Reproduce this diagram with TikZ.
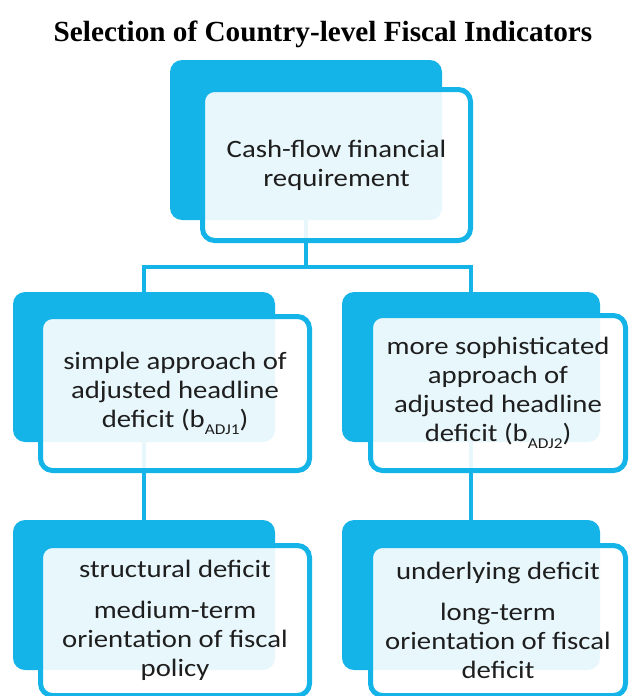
\documentclass[tikz,border=0pt]{standalone}
\usepackage{fontspec}
\setmainfont{Carlito}[FakeStretch=1.15]
\newfontfamily\titlefont{Liberation Serif}
\definecolor{cyanb}{HTML}{15B4E8}
\definecolor{txt}{HTML}{1E1E1E}
\newcommand{\adjsub}[1]{\raisebox{-0.28em}{\fontsize{15}{15}\selectfont #1}}
\begin{document}
\begin{tikzpicture}[x=1pt,y=-1pt,
  darkbox/.style={fill=cyanb, rounded corners=12pt, inner sep=0pt},
  frontbox/.style={draw=cyanb, line width=5pt, fill=white, fill opacity=0.9, text opacity=1,
    rounded corners=12pt, inner sep=0pt, align=center, text=txt,
    font=\fontsize{25}{29}\selectfont},
  conn/.style={draw=cyanb, line width=4.5pt}]
\useasboundingbox (0,0) rectangle (630,696);
\clip (0,0) rectangle (630,696);
\fill[white] (0,0) rectangle (630,696);

\node[font=\titlefont\bfseries\fontsize{29.2}{31}\selectfont, anchor=base] (title) at (323,41)
  {Selection of Country-level Fiscal Indicators};

% back (dark) boxes
\node[darkbox, minimum width=272pt, minimum height=160pt] (d0) at (306,140) {};
\node[darkbox, minimum width=262pt, minimum height=150pt] (d1) at (144,367) {};
\node[darkbox, minimum width=258pt, minimum height=150pt] (d2) at (471,367) {};
\node[darkbox, minimum width=262pt, minimum height=150pt] (d3) at (144,595) {};
\node[darkbox, minimum width=258pt, minimum height=150pt] (d4) at (471,595) {};

% connectors
\coordinate (hub) at (306,267);
\draw[conn] (d0.south) -- (hub);
\draw[conn] (d1.north) |- (hub) -| (d2.north);
\draw[conn] (d1.south) -- (d3.north);
\draw[conn] (d2.south) -- (d4.north);

% front boxes
\node[frontbox, minimum width=268pt, minimum height=151pt] (f0) at (336.5,165)
  {Cash-flow financial\\requirement};
\node[frontbox, minimum width=269pt, minimum height=154pt] (f1) at (175,393.5)
  {simple approach of\\adjusted headline\\deficit (b\adjsub{ADJ1})};
\node[frontbox, minimum width=255pt, minimum height=155pt] (f2) at (498,393)
  {more sophisticated\\approach of\\adjusted headline\\deficit (b\adjsub{ADJ2})};
\node[frontbox, minimum width=269pt, minimum height=150pt] (f3) at (175,620.5)
  {structural deficit\\[12pt]medium-term\\orientation of fiscal\\policy};
\node[frontbox, minimum width=255pt, minimum height=150pt] (f4) at (498,620.5)
  {underlying deficit\\[12pt]long-term\\orientation of fiscal\\deficit};
\end{tikzpicture}
\end{document}
